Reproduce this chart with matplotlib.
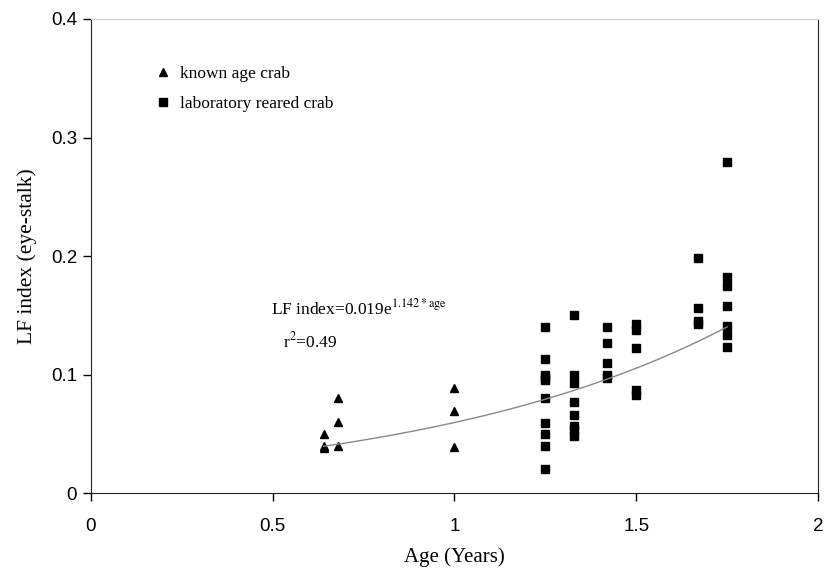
import numpy as np
import matplotlib.pyplot as plt

# known age crab (triangles)
known_age = [0.64, 0.64, 0.64, 0.68, 0.68, 0.68, 1.0, 1.0, 1.0]
known_lf = [0.050, 0.040, 0.038, 0.080, 0.060, 0.040, 0.089, 0.069, 0.039]

# laboratory reared crab (squares)
lab_age = ([1.25] * 10 + [1.33] * 8 + [1.42] * 5 + [1.5] * 5
           + [1.67] * 4 + [1.75] * 7)
lab_lf = [0.140, 0.113, 0.100, 0.097, 0.095, 0.080, 0.059, 0.050, 0.040, 0.020,
          0.150, 0.100, 0.093, 0.077, 0.066, 0.057, 0.053, 0.048,
          0.140, 0.127, 0.110, 0.100, 0.097,
          0.143, 0.138, 0.122, 0.087, 0.083,
          0.198, 0.156, 0.145, 0.143,
          0.279, 0.182, 0.175, 0.158, 0.141, 0.133, 0.123]

# fitted curve LF = a * exp(b * age)
fit_a = 0.019
fit_b = 1.142
fit_range = (0.64, 1.75)

x_ticks = [0, 0.5, 1, 1.5, 2]
x_ticklabels = ['0', '0.5', '1', '1.5', '2']
y_ticks = [0, 0.1, 0.2, 0.3, 0.4]
y_ticklabels = ['0', '0.1', '0.2', '0.3', '0.4']

plt.rcParams['mathtext.fontset'] = 'stix'
serif = 'Liberation Serif'
sans = 'Liberation Sans'

fig = plt.figure(figsize=(8.3, 5.72), dpi=100)
ax = fig.add_axes([0.1096, 0.138, 0.8759, 0.8288])

ax.plot(known_age, known_lf, linestyle='none', marker='^', color='black',
        markersize=5.5, label='known age crab')
ax.plot(lab_age, lab_lf, linestyle='none', marker='s', color='black',
        markersize=5.3, label='laboratory reared crab')

xs = np.linspace(fit_range[0], fit_range[1], 100)
ax.plot(xs, fit_a * np.exp(fit_b * xs), color='#888888', linewidth=1)

ax.text(0.496, 0.156, r'LF index=0.019e$^{\mathrm{1.142*age}}$', family=serif,
        fontsize=12.5, va='center', ha='left')
ax.text(0.528, 0.128, r'r$^{\mathrm{2}}$=0.49', family=serif,
        fontsize=12.5, va='center', ha='left')

ax.set_xlim(0, 2)
ax.set_ylim(0, 0.4)
ax.set_xticks(x_ticks)
ax.set_xticklabels(x_ticklabels, family=sans, fontsize=13.5)
ax.set_yticks(y_ticks)
ax.set_yticklabels(y_ticklabels, family=sans, fontsize=13.5)
ax.tick_params(direction='out', length=6, width=1)
ax.tick_params(axis='y', pad=4)
ax.tick_params(axis='x', pad=12)

ax.spines['top'].set_color('#cccccc')
for s in ['left', 'bottom', 'right']:
    ax.spines[s].set_color('#222222')

ax.set_xlabel('Age (Years)', family=serif, fontsize=15, labelpad=9)
ax.set_ylabel('LF index (eye-stalk)', family=serif, fontsize=15.5, labelpad=10)

ax.legend(loc='upper left', bbox_to_anchor=(0.065, 0.935), frameon=False,
          handlelength=1, handletextpad=0.5, labelspacing=0.85,
          prop={'family': serif, 'size': 12.5})

fig.savefig('out.png', dpi=100)
